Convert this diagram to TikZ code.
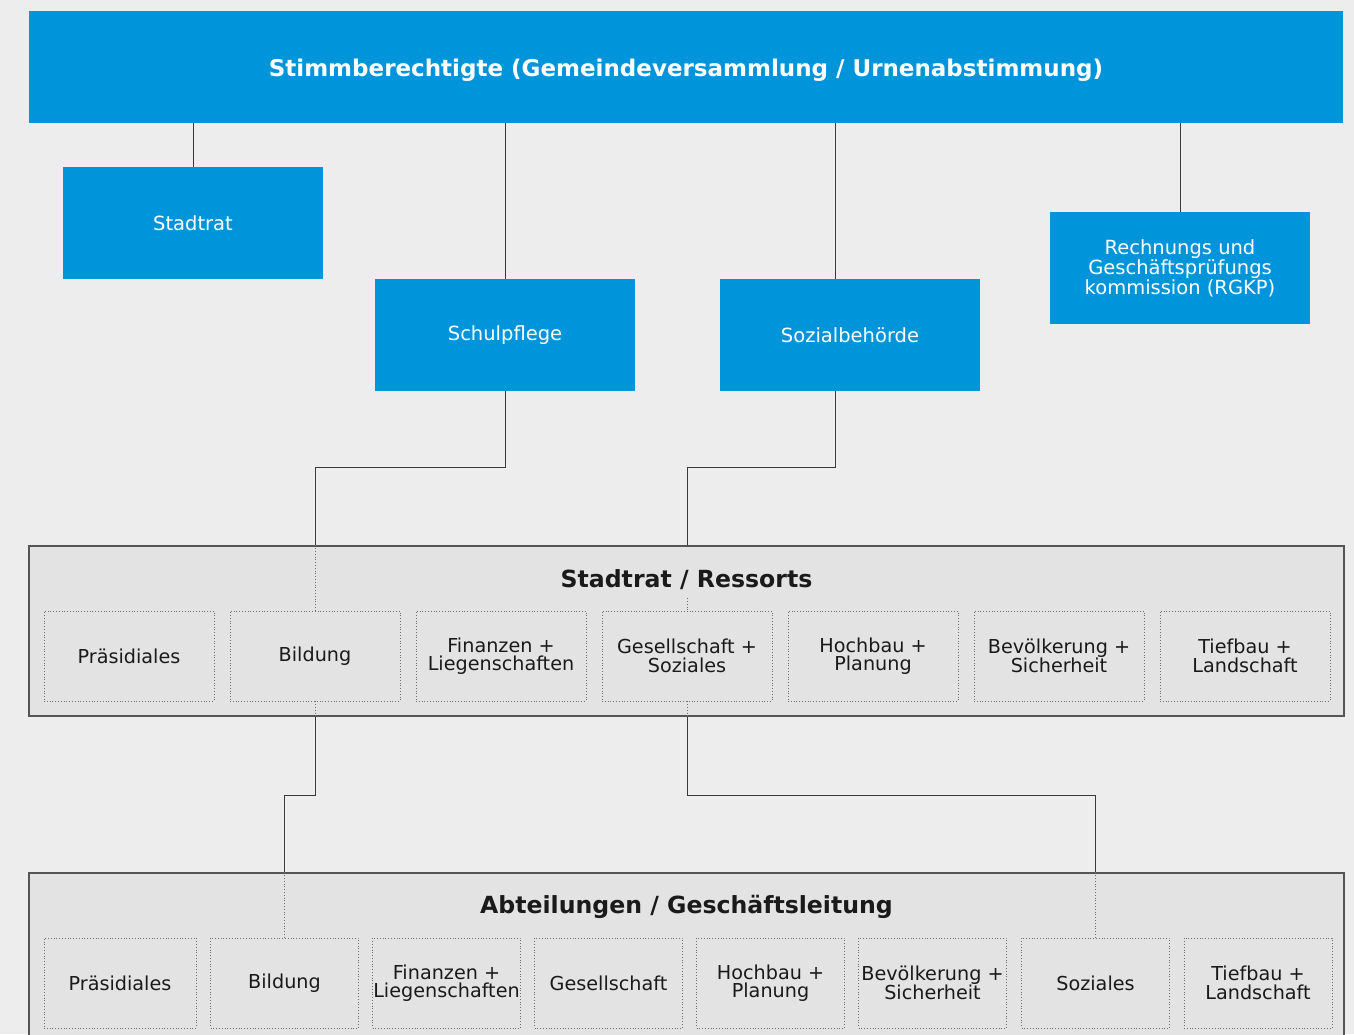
\documentclass[tikz,border=0pt]{standalone}
\usepackage{fontspec}
\setmainfont{DejaVu Sans}
\definecolor{bgC}{HTML}{EDEDED}
\definecolor{blueC}{HTML}{0095DA}
\definecolor{grpfill}{HTML}{E3E3E3}
\definecolor{grpline}{HTML}{555555}
\definecolor{lineC}{HTML}{3A3A3A}
\definecolor{dotC}{HTML}{6E6E6E}
\definecolor{txtC}{HTML}{1A1A1A}
\begin{document}
\begin{tikzpicture}[x=1pt,y=-1pt,
  bluebox/.style={fill=blueC,text=white,minimum width=260pt,minimum height=112pt,inner sep=0pt,align=center,font=\fontsize{19.5}{18.5}\selectfont},
  grp/.style={draw=grpline,fill=grpfill,line width=1.1pt,minimum width=1315pt,inner sep=0pt},
  grptitle/.style={text=txtC,inner sep=0pt,minimum height=36pt,font=\fontsize{23.6}{23.6}\bfseries\selectfont},
  unit/.style={draw=dotC,dotted,line width=0.8pt,minimum height=90pt,inner sep=0pt,align=center,text=txtC,font=\fontsize{19.2}{18.5}\selectfont},
  conn/.style={draw=lineC,line width=1pt},
  dotc/.style={draw=dotC,dotted,line width=0.8pt}]
\fill[bgC] (0,0) rectangle (1354,1034);
\useasboundingbox (0,0) rectangle (1354,1034);
\clip (0,0) rectangle (1354,1034);
% top level
\node[bluebox,minimum width=1314pt,text height=22pt,text depth=3.3pt,font=\fontsize{23}{23}\bfseries\selectfont] (top) at (686,67) {Stimmberechtigte (Gemeindeversammlung / Urnenabstimmung)};
\node[bluebox] (stadtrat) at (193,223) {Stadtrat};
\node[bluebox] (schul) at (505,335) {Schulpflege};
\node[bluebox] (sozial) at (850,335) {Sozialbehörde};
\node[bluebox] (rgkp) at (1180,268) {Rechnungs und\\Geschäftsprüfungs\\kommission (RGKP)};
\coordinate (sozN) at ([xshift=-15pt]sozial.north);
\coordinate (sozS) at ([xshift=-15pt]sozial.south);
\draw[conn] (top.south -| stadtrat.north) -- (stadtrat.north);
\draw[conn] (top.south -| schul.north) -- (schul.north);
\draw[conn] (top.south -| sozN) -- (sozN);
\draw[conn] (top.south -| rgkp.north) -- (rgkp.north);
% group 1
\node[grp,minimum height=170pt] (g1) at (686.5,631) {};
\node[grptitle] (t1) at (686.5,580) {Stadtrat / Ressorts};
\foreach \n/\x/\t in {pra/129/Präsidiales, bil/315/Bildung, fin/501/Finanzen +\\Liegenschaften, ges/687/Gesellschaft +\\Soziales, hoch/873/Hochbau +\\Planung, bev/1059/Bevölkerung +\\Sicherheit, tief/1245/Tiefbau +\\Landschaft}
  \node[unit,minimum width=170pt] (r\n) at (\x,656) {\t};
% group 2
\node[grp,minimum height=170pt] (g2) at (686.5,958) {};
\node[grptitle] (t2) at (686.5,907) {Abteilungen / Geschäftsleitung};
\foreach \n/\x/\w/\t in {pra/120/152/Präsidiales, bil/284.5/148/Bildung, fin/446.5/148/Finanzen +\\Liegenschaften, ges/608.5/148/Gesellschaft, hoch/770.5/148/Hochbau +\\Planung, bev/932.5/148/Bevölkerung +\\Sicherheit, soz/1095.5/148/Soziales, tief/1258/148/Tiefbau +\\Landschaft}
  \node[unit,minimum width=\w pt] (a\n) at (\x,983) {\t};
% connectors to group 1
\draw[conn] (schul.south) -- (505,467) -| (g1.north -| rbil.north);
\draw[dotc] (g1.north -| rbil.north) -- (rbil.north);
\draw[conn] (sozS) -- (835,467) -| (g1.north -| rges.north);
\draw[dotc] (t1.south -| rges.north) -- (rges.north);
% connectors to group 2
\draw[dotc] (rbil.south) -- (g1.south -| rbil.south);
\draw[conn] (g1.south -| rbil.south) -- (315,795) -| (g2.north -| abil.north);
\draw[dotc] (g2.north -| abil.north) -- (abil.north);
\draw[dotc] (rges.south) -- (g1.south -| rges.south);
\draw[conn] (g1.south -| rges.south) -- (687,795) -| (g2.north -| asoz.north);
\draw[dotc] (g2.north -| asoz.north) -- (asoz.north);
\end{tikzpicture}
\end{document}
